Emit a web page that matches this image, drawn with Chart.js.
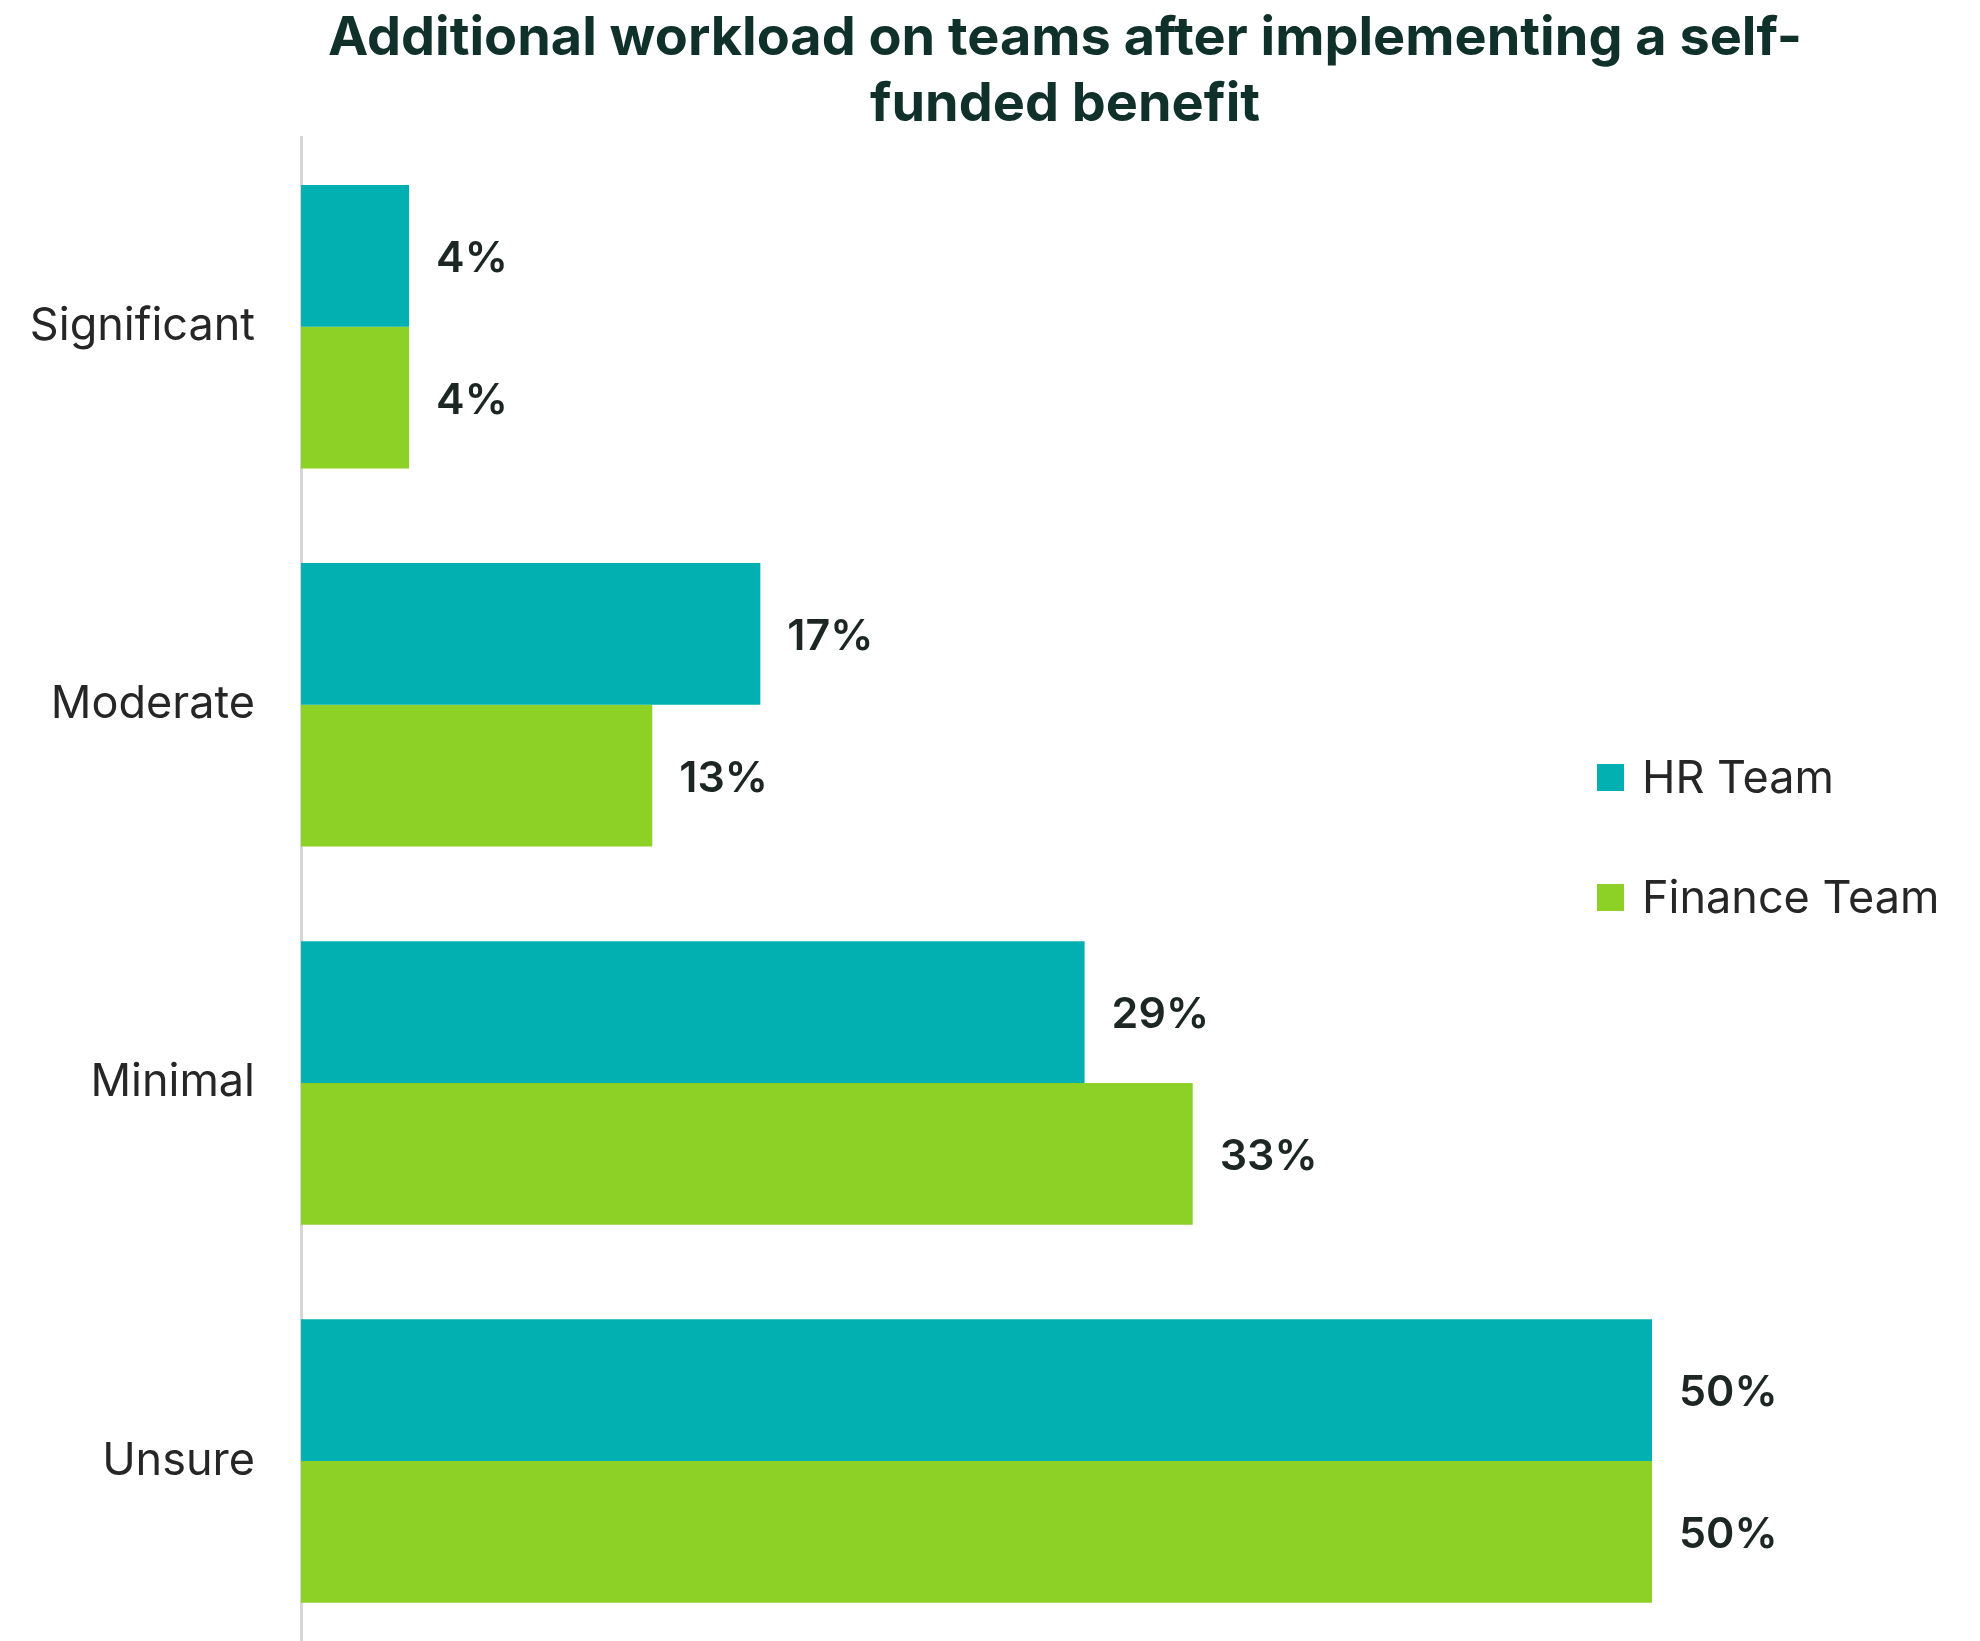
<!DOCTYPE html>
<html>
<head>
<meta charset="utf-8">
<script src="https://cdn.jsdelivr.net/npm/chart.js@4.4.1/dist/chart.umd.min.js"></script>
<style>
  html, body { margin: 0; padding: 0; background: #fff; overflow: hidden; }
  #wrap { width: 1980px; height: 1641px; overflow: hidden; }
</style>
</head>
<body>
<div id="wrap"><canvas id="workload" width="1980" height="1650"></canvas></div>
<script>
var categories = ["Significant", "Moderate", "Minimal", "Unsure"];
var hrTeam = [4, 17, 29, 50];
var financeTeam = [4, 13, 33, 50];
var seriesNames = ["HR Team", "Finance Team"];
var seriesColors = ["#03B0B1", "#8DD026"];
var titleLines = ["Additional workload on teams after implementing a self-", "funded benefit"];

var fontFamily = "Inter, 'Noto Sans', sans-serif";

// value labels at the end of each bar
var barLabels = {
  id: "barLabels",
  afterDatasetsDraw: function (chart) {
    var ctx = chart.ctx;
    ctx.save();
    ctx.font = "600 43px " + fontFamily;
    ctx.fillStyle = "#1c2622";
    ctx.textAlign = "left";
    ctx.textBaseline = "middle";
    chart.data.datasets.forEach(function (ds, i) {
      chart.getDatasetMeta(i).data.forEach(function (bar, j) {
        ctx.fillText(ds.data[j] + "%", bar.x + 27, bar.y + 3);
      });
    });
    ctx.restore();
  }
};

// legend floating to the right of the bars
var sideLegend = {
  id: "sideLegend",
  afterDraw: function (chart, args, opts) {
    var ctx = chart.ctx;
    ctx.save();
    ctx.font = "400 45px " + fontFamily;
    ctx.textBaseline = "middle";
    chart.data.datasets.forEach(function (ds, i) {
      var y = opts.y + i * opts.step;
      ctx.fillStyle = ds.backgroundColor;
      ctx.fillRect(opts.x, y - 13, 27, 27);
      ctx.fillStyle = "#262626";
      ctx.fillText(ds.label, opts.x + 45, y + 2);
    });
    ctx.restore();
  }
};

new Chart(document.getElementById("workload").getContext("2d"), {
  type: "bar",
  data: {
    labels: categories,
    datasets: [
      { label: seriesNames[0], data: hrTeam, backgroundColor: seriesColors[0] },
      { label: seriesNames[1], data: financeTeam, backgroundColor: seriesColors[1] }
    ]
  },
  options: {
    indexAxis: "y",
    responsive: false,
    animation: false,
    layout: { padding: { top: 0, right: 151, left: 0, bottom: 0 } },
    datasets: { bar: { categoryPercentage: 0.75, barPercentage: 1 } },
    scales: {
      x: { display: false, min: 0, max: 56.55 },
      y: {
        grid: { display: false, drawTicks: false },
        border: { display: true, color: "#d6d6d6", width: 3 },
        ticks: {
          color: "#262626",
          padding: 46,
          font: { family: fontFamily, size: 45, weight: "400" }
        },
        // fixed axis width; no extra room reserved above/below the bars
        afterFit: function (scale) {
          scale.width = 301;
          scale.paddingTop = 0;
          scale.paddingBottom = 0;
        }
      }
    },
    plugins: {
      legend: { display: false },
      tooltip: { enabled: false },
      title: {
        display: true,
        fullSize: false,
        text: titleLines,
        color: "#10302a",
        padding: { top: 6, bottom: 0 },
        font: { family: fontFamily, size: 54, weight: "700", lineHeight: 1.22 }
      },
      sideLegend: { x: 1597, y: 777, step: 120 }
    }
  },
  plugins: [barLabels, sideLegend]
});
</script>
</body>
</html>
